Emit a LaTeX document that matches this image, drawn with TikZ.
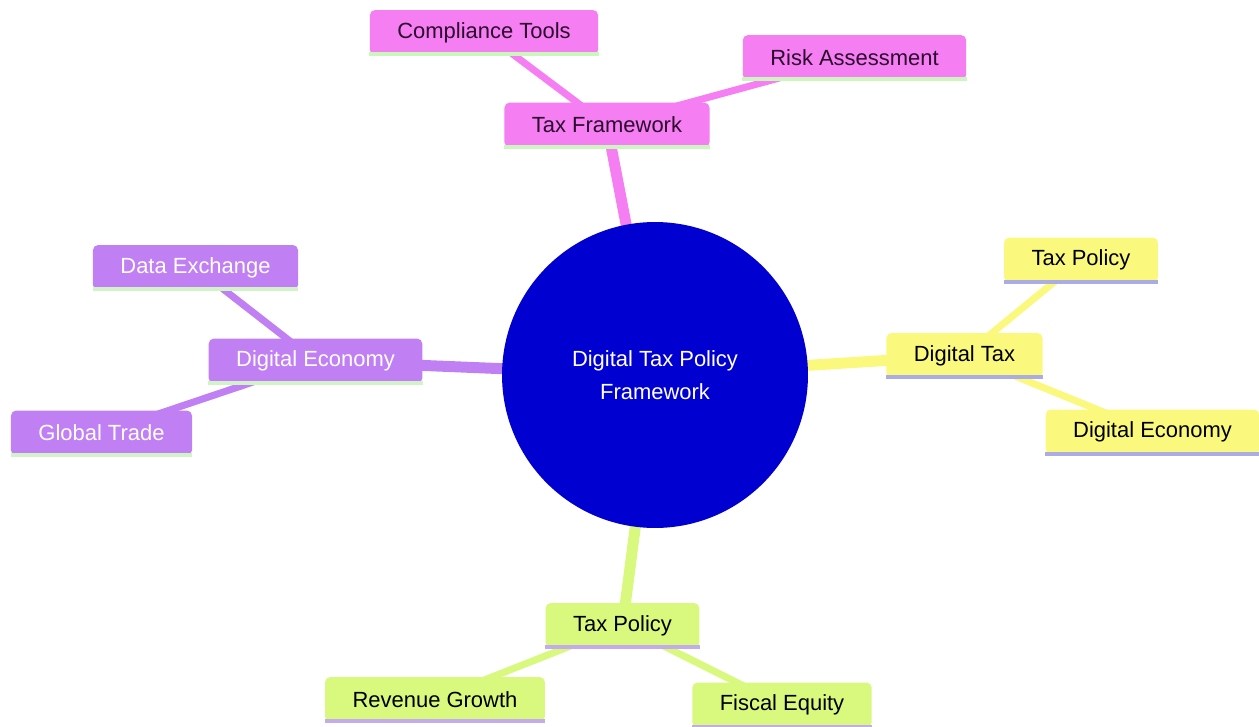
\documentclass[tikz,border=0pt]{standalone}
\usepackage{fontspec}
\setmainfont{Liberation Sans}
\usetikzlibrary{backgrounds}

\definecolor{rootblue}{RGB}{0,0,208}
\definecolor{pinkfill}{RGB}{245,126,243}
\definecolor{pinkline}{RGB}{205,245,190}
\definecolor{pinktext}{RGB}{45,8,45}
\definecolor{purplefill}{RGB}{192,128,244}
\definecolor{purpleline}{RGB}{210,242,200}
\definecolor{yellowfill}{RGB}{250,249,125}
\definecolor{yellowline}{RGB}{172,172,228}
\definecolor{greenfill}{RGB}{216,249,125}
\definecolor{greenline}{RGB}{196,172,236}

\tikzset{
	box/.style={rounded corners=3pt, minimum height=0.9cm, inner xsep=0.55cm, inner ysep=0pt,
		font=\fontsize{12.5}{14}\selectfont},
	pinkbox/.style={box, fill=pinkfill, text=pinktext},
	purplebox/.style={box, fill=purplefill, text=white},
	yellowbox/.style={box, fill=yellowfill, text=black},
	greenbox/.style={box, fill=greenfill, text=black},
	branch/.style={line width=0.22cm},
	twig/.style={line width=0.14cm},
	underline/.style={line width=0.08cm}
}

\begin{document}
\begin{tikzpicture}[x=0.02cm, y=-0.02cm]
		\useasboundingbox (0,0) rectangle (1259,727);
		% root
		\node[circle, fill=rootblue, text=white, minimum size=6.12cm, align=center,
			font=\fontsize{12.5}{18.7}\selectfont] (root) at (655,375) {Digital Tax Policy\\Framework};
		% top branch
		\node[pinkbox] (tf) at (607,125) {Tax Framework};
		\node[pinkbox] (ct) at (484,32.5) {Compliance Tools};
		\node[pinkbox] (ra) at (854.5,57.5) {Risk Assessment};
		% left branch
		\node[purplebox] (dl) at (315.5,361) {Digital Economy};
		\node[purplebox] (dx) at (195.5,267.5) {Data Exchange};
		\node[purplebox] (gt) at (101.5,433) {Global Trade};
		% right branch
		\node[yellowbox] (dt) at (964.5,355.5) {Digital Tax};
		\node[yellowbox] (tr) at (1081,260) {Tax Policy};
		\node[yellowbox] (dr) at (1152.5,432) {Digital Economy};
		% bottom branch
		\node[greenbox] (tb) at (622.5,625.5) {Tax Policy};
		\node[greenbox] (rg) at (435,699.5) {Revenue Growth};
		\node[greenbox] (fe) at (782,705) {Fiscal Equity};
		% underlines
		\foreach \n/\c in {tf/pinkline, ct/pinkline, ra/pinkline,
			dl/purpleline, dx/purpleline, gt/purpleline,
			dt/yellowline, tr/yellowline, dr/yellowline,
			tb/greenline, rg/greenline, fe/greenline}
		\draw[underline, color=\c] ([yshift=0.02cm]\n.south west) -- ([yshift=0.02cm]\n.south east);
		% edges
		\begin{pgfonlayer}{background}
			\draw[branch, pinkfill] (root.center) -- (tf.center);
			\draw[twig, pinkfill] (tf.center) -- (ct.center);
			\draw[twig, pinkfill] (tf.center) -- (ra.center);
			\draw[branch, purplefill] (root.center) -- (dl.center);
			\draw[twig, purplefill] (dl.center) -- (dx.center);
			\draw[twig, purplefill] (dl.center) -- (gt.center);
			\draw[branch, yellowfill] (root.center) -- (dt.center);
			\draw[twig, yellowfill] (dt.center) -- (tr.center);
			\draw[twig, yellowfill] (dt.center) -- (dr.center);
			\draw[branch, greenfill] (root.center) -- (tb.center);
			\draw[twig, greenfill] (tb.center) -- (rg.center);
			\draw[twig, greenfill] (tb.center) -- (fe.center);
		\end{pgfonlayer}
	\end{tikzpicture}
\end{document}
